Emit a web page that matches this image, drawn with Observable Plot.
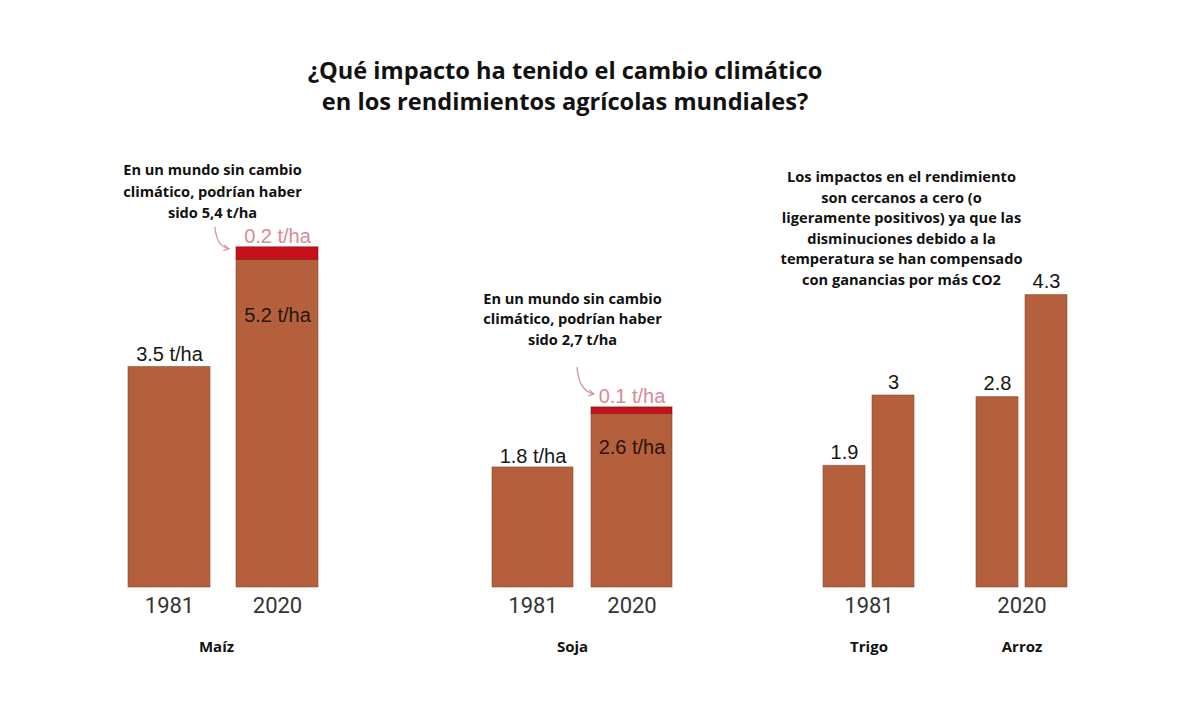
<!DOCTYPE html>
<html>
<head>
<meta charset="utf-8">
<script src="https://cdn.jsdelivr.net/npm/d3@7"></script>
<script src="https://cdn.jsdelivr.net/npm/@observablehq/plot@0.6"></script>
<style>
  html, body { margin: 0; padding: 0; background: #fff; }
  #wrap { position: relative; width: 1200px; height: 712px; overflow: hidden; background: #fff; }
  #title { position: absolute; left: 0; width: 1130px; top: 55px; text-align: center;
           font-family: "Open Sans", sans-serif; font-weight: 700; font-size: 23.6px; line-height: 31px; color: #111; }
  .layer { position: absolute; left: 0; top: 0; pointer-events: none; }
</style>
</head>
<body>
<div id="wrap">
  <div id="title">¿Qué impacto ha tenido el cambio climático<br>en los rendimientos agrícolas mundiales?</div>
</div>
<script>
// ---------- DATA ----------
const years = ["1981", "2020"];

const maizYield  = [3.5, 5.2];
const maizGap    = [0, 0.2];          // rendimiento perdido por el cambio climático
const maizLabels = ["3.5 t/ha", "5.2 t/ha"];
const maizGapLabel = "0.2 t/ha";
const maizNote = "En un mundo sin cambio\nclimático, podrían haber\nsido 5,4 t/ha";

const sojaYield  = [1.8, 2.6];
const sojaGap    = [0, 0.1];
const sojaLabels = ["1.8 t/ha", "2.6 t/ha"];
const sojaGapLabel = "0.1 t/ha";
const sojaNote = "En un mundo sin cambio\nclimático, podrían haber\nsido 2,7 t/ha";

const trigoYield  = [1.9, 3];
const trigoLabels = ["1.9", "3"];
const arrozYield  = [2.8, 4.3];
const arrozLabels = ["2.8", "4.3"];
const groupTickLabels = ["1981", "2020"];   // as printed under Trigo / Arroz
const crops = ["Maíz", "Soja", "Trigo", "Arroz"];
const note3 = "Los impactos en el rendimiento\nson cercanos a cero (o\nligeramente positivos) ya que las\ndisminuciones debido a la\ntemperatura se han compensado\ncon ganancias por más CO2";

// ---------- STYLE ----------
const BROWN = "#b4603c";
const RED = "#c8101a";
const PINK = "#d98a95";
const W = 1200, H = 712, BASE = 587;
const BOLD = "Open Sans";
const NUM = "Liberation Sans";
const YEARF = "Roboto";
const NOTE_SIZE = 14.6;

function panel(cfg) {
  const rows = [];
  years.forEach((year, i) => {
    rows.push({year, part: "rendimiento", value: cfg.yields[i]});
    if (cfg.gaps && cfg.gaps[i] > 0) rows.push({year, part: "pérdida", value: cfg.gaps[i]});
  });
  const lab = years.map((year, i) => ({year, v: cfg.yields[i], t: cfg.labels[i], place: cfg.place[i]}));
  const gapLab = cfg.gaps ? years.map((year, i) => ({year, v: cfg.yields[i] + cfg.gaps[i], g: cfg.gaps[i]})).filter(d => d.g > 0) : [];
  const marks = [
    Plot.barY(rows, {x: "year", y: "value", fill: "part",
      stroke: d => d.part === "pérdida" ? "#6e1010" : "#8a4428", strokeOpacity: 0.55, strokeWidth: 1}),
    Plot.text(lab.filter(d => d.place === "above"), {x: "year", y: "v", text: "t", dy: cfg.aboveDy,
      fontFamily: NUM, fontSize: cfg.valSize, fill: "#161616", lineAnchor: "middle"}),
    Plot.text(lab.filter(d => d.place === "inside"), {x: "year", y: "v", text: "t", dy: cfg.insideDy,
      fontFamily: NUM, fontSize: cfg.valSize, fill: "#2a1410", lineAnchor: "middle"}),
    Plot.text(gapLab, {x: "year", y: "v", text: () => cfg.gapLabel, dy: -11,
      fontFamily: NUM, fontSize: 20, fill: PINK, lineAnchor: "middle"}),
    Plot.text(cfg.yearText ? [cfg.yearText] : years, cfg.yearText
      ? {frameAnchor: "bottom", dy: 25, fontFamily: YEARF, fontSize: 22, fill: "#333"}
      : {x: d => d, frameAnchor: "bottom", dy: 25, fontFamily: YEARF, fontSize: 22, fill: "#333"}),
    Plot.text([cfg.crop], {frameAnchor: "bottom", dy: 64, dx: cfg.cropDx, fontFamily: BOLD,
      fontWeight: 700, fontSize: 15, fill: "#111"})
  ];
  if (cfg.note) marks.push(Plot.text([cfg.note], {frameAnchor: "top", lineAnchor: "middle",
      dx: cfg.noteDx, dy: cfg.noteDy, lineHeight: cfg.noteLH, fontFamily: BOLD, fontWeight: 700,
      fontSize: NOTE_SIZE, fill: "#111"}));
  const plot = Plot.plot({
    width: W, height: H,
    marginLeft: cfg.left, marginRight: W - cfg.right,
    marginTop: BASE - 6 * cfg.k, marginBottom: H - BASE,
    x: {domain: years, paddingInner: cfg.pad, paddingOuter: 0, axis: null},
    y: {domain: [0, 6], axis: null},
    color: {domain: ["rendimiento", "pérdida"], range: [BROWN, RED]},
    style: {background: "transparent", overflow: "visible"},
    marks
  });
  plot.classList.add("layer");
  if (cfg.arrow) {
    const X = plot.scale("x"), Y = plot.scale("y");
    const i = years.length - 1;
    const bx = X.apply(years[i]);
    const by = Y.apply(cfg.yields[i] + cfg.gaps[i]);
    const a = cfg.arrow;
    const sx = bx + a[0], sy = by + a[1], ex = bx + a[2], ey = by + a[3];
    const cx = sx + (ex - sx) * 0.1, cy = sy + (ey - sy) * 0.9;
    const svg = d3.select(plot);
    svg.append("path").attr("d", `M${sx},${sy}Q${cx},${cy} ${ex},${ey}`)
      .attr("fill", "none").attr("stroke", "#cf9aa2").attr("stroke-width", 1.3);
    const ang = Math.atan2(ey - cy, ex - cx), L = 6;
    const p1 = [ex - L * Math.cos(ang - 0.5), ey - L * Math.sin(ang - 0.5)];
    const p2 = [ex - L * Math.cos(ang + 0.5), ey - L * Math.sin(ang + 0.5)];
    svg.append("path").attr("d", `M${p1}L${ex},${ey}L${p2}`)
      .attr("fill", "none").attr("stroke", "#cf9aa2").attr("stroke-width", 1.3);
  }
  return plot;
}

const wrap = document.getElementById("wrap");
wrap.appendChild(panel({
  yields: maizYield, gaps: maizGap, labels: maizLabels, gapLabel: maizGapLabel,
  place: ["above", "inside"], crop: crops[0], note: maizNote,
  left: 127, right: 319, pad: 0.2385, k: 63, aboveDy: -12, insideDy: 56, valSize: 20,
  cropDx: -7, noteDx: -11, noteDy: -20, noteLH: 1.5, arrow: [-21, -20, -7, 2]
}));
wrap.appendChild(panel({
  yields: sojaYield, gaps: sojaGap, labels: sojaLabels, gapLabel: sojaGapLabel,
  place: ["above", "inside"], crop: crops[1], note: sojaNote,
  left: 492, right: 672, pad: 0.182, k: 66.7, aboveDy: -11, insideDy: 34, valSize: 20,
  cropDx: -10, noteDx: -10, noteDy: 130.5, noteLH: 1.4, arrow: [-14, -40, 3, -13]
}));
wrap.appendChild(panel({
  yields: trigoYield, labels: trigoLabels, place: ["above", "above"], crop: crops[2],
  yearText: groupTickLabels[0], note: note3,
  left: 823, right: 914, pad: 0.143, k: 64, aboveDy: -13, valSize: 20,
  cropDx: 0, noteDx: 32.5, noteDy: 39.5 + (587 - 6 * 66.7) - (587 - 6 * 64), noteLH: 1.41
}));
wrap.appendChild(panel({
  yields: arrozYield, labels: arrozLabels, place: ["above", "above"], crop: crops[3],
  yearText: groupTickLabels[1],
  left: 976, right: 1067, pad: 0.143, k: 68, aboveDy: -14, valSize: 20,
  cropDx: 0
}));
</script>
</body>
</html>
